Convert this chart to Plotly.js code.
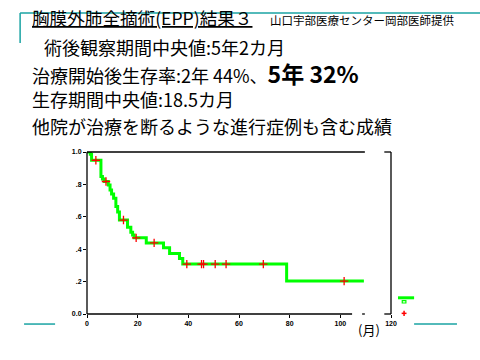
<!DOCTYPE html>
<html>
<head>
<meta charset="utf-8">
<script src="https://cdn.plot.ly/plotly-3.0.1.min.js"></script>
<style>html,body{margin:0;padding:0;background:#fff;}#chart{width:480px;height:360px;}</style>
</head>
<body>
<div id="chart"></div>
<script>
// Kaplan-Meier survival curve (months, survival proportion)
var months = [0, 1.3, 1.8, 5.5, 6.1, 6.8, 8.4, 9.1, 9.7, 10.5, 11.4, 12.1, 12.8, 16.0, 17.3, 18.0, 18.6, 23.4, 30.2, 32.6, 36.5, 37.8, 78.8, 109.3];
var survival = [1.0, 0.986, 0.949, 0.848, 0.834, 0.818, 0.797, 0.766, 0.741, 0.715, 0.664, 0.63, 0.58, 0.535, 0.505, 0.487, 0.470, 0.439, 0.409, 0.374, 0.343, 0.308, 0.203, 0.203];
// censored observations
var censorMonths = [3.5, 7.5, 14.4, 19.4, 26.5, 39.4, 45.2, 46.0, 50.6, 54.9, 69.6, 101.5];
var censorSurvival = [0.949, 0.818, 0.58, 0.470, 0.439, 0.308, 0.308, 0.308, 0.308, 0.308, 0.308, 0.203];
// ticks
var xTicks = [0, 20, 40, 60, 80, 100, 120];
var xTickText = ["0", "20", "40", "60", "80", "100", "120"];
var yTicks = [0, 0.2, 0.4, 0.6, 0.8, 1.0];
var yTickText = ["0.0", ".2", ".4", ".6", ".8", "1.0"];
// texts
var titleText = "胸膜外肺全摘術(EPP)結果３";
var creditText = "山口宇部医療センター岡部医師提供";
var line2 = "術後観察期間中央値:5年2カ月";
var line3a = "治療開始後生存率:2年 44%、";
var line3b = "5年 32%";
var line4 = "生存期間中央値:18.5カ月";
var line5 = "他院が治療を断るような進行症例も含む成績";
var unitText = "(月)";

var JP = "Noto Sans CJK JP";
var green = "#00ff00";
var teal = "#1aa3a3";

var traces = [
  {x: months, y: survival, type: "scatter", mode: "lines",
   line: {shape: "hv", color: green, width: 3}, hoverinfo: "skip"},
  {x: censorMonths, y: censorSurvival, type: "scatter", mode: "markers",
   marker: {symbol: "cross-thin", size: 6, line: {color: "#ff0000", width: 1.3}}, hoverinfo: "skip"}
];

function ln(x0, y0, x1, y1, color, width) {
  return {type: "line", xref: "paper", yref: "paper", x0: x0, y0: y0, x1: x1, y1: y1,
          line: {color: color, width: width}};
}

var shapes = [
  // frame
  ln(0, 0, 0, 1, "#000", 1.3),
  ln(0, 0, 0.872, 0, "#000", 1.3),
  ln(0.905, 0, 0.914, 0, "#000", 1.3),
  ln(0.978, 0, 1, 0, "#000", 1.3),
  ln(0, 1, 0.914, 1, "#000", 1.3),
  ln(0.978, 1, 1, 1, "#000", 1.3),
  ln(1, 0, 1, 1, "#000", 1.3),
  // teal slide decorations
  ln(-0.220, 1.858, 1.293, 1.858, teal, 1.5),
  ln(-0.220, 1.858, -0.220, 1.673, teal, 1.5),
  ln(-0.207, -0.062, -0.105, -0.062, teal, 1.5),
  ln(1.076, -0.062, 1.217, -0.062, teal, 1.5),
  // legend remnants
  ln(1.023, 0.100, 1.076, 0.100, green, 3),
  {type: "rect", xref: "paper", yref: "paper", x0: 1.037, x1: 1.049, y0: 0.068, y1: 0.083,
   line: {color: green, width: 1.2}},
  ln(1.035, 0.004, 1.051, 0.004, "#ff0000", 1.5),
  ln(1.043, -0.012, 1.043, 0.020, "#ff0000", 1.5)
];

function ann(text, x, y, size, extra) {
  var a = {text: text, x: x, y: y, xref: "paper", yref: "paper", xanchor: "left", yanchor: "middle",
           showarrow: false, font: {family: JP, size: size, color: "#000"}};
  if (extra) for (var k in extra) a[k] = extra[k];
  return a;
}

var annotations = [
  ann("<u>" + titleText + "</u>", -0.1875, 1.833, 17.6),
  ann(creditText, 0.595, 1.815, 11.5),
  ann(line2, -0.148, 1.648, 18),
  ann(line3a + "<b><span style='font-size:23px'>" + line3b + "</span></b>", -0.1875, 1.488, 18),
  ann(line4, -0.1875, 1.327, 18),
  ann(line5, -0.1875, 1.158, 18),
  ann(unitText, 0.928, -0.093, 13, {xanchor: "center"})
];

var layout = {
  width: 480, height: 360,
  margin: {l: 87, r: 89, t: 152, b: 46, pad: 0},
  paper_bgcolor: "#fff", plot_bgcolor: "#fff",
  showlegend: false,
  xaxis: {range: [0, 120], tickvals: xTicks, ticktext: xTickText, ticks: "outside", ticklen: 3,
          tickcolor: "#000", showgrid: false, zeroline: false, showline: false,
          tickfont: {family: "Liberation Sans", size: 7, color: "#000", weight: "bold"}},
  yaxis: {range: [0, 1], tickvals: yTicks, ticktext: yTickText, ticks: "outside", ticklen: 3,
          tickcolor: "#000", showgrid: false, zeroline: false, showline: false,
          tickfont: {family: "Liberation Sans", size: 7, color: "#000", weight: "bold"}},
  shapes: shapes,
  annotations: annotations
};

Plotly.newPlot("chart", traces, layout, {displayModeBar: false, staticPlot: true});
</script>
</body>
</html>
